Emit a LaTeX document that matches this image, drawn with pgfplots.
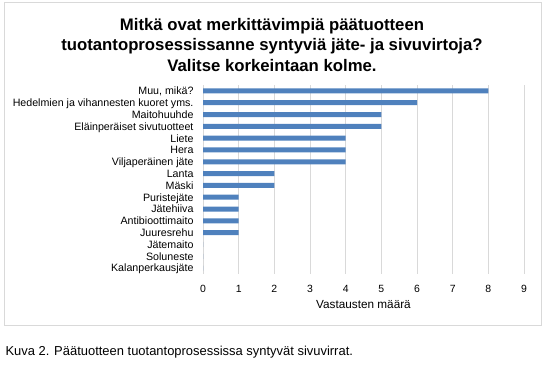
\documentclass[border=0pt]{standalone}
\usepackage{fontspec}
\setmainfont{Liberation Sans}
\usepackage{pgfplots}
\pgfplotsset{compat=1.18}
\definecolor{barblue}{HTML}{4F81BD}
\begin{document}
\begin{tikzpicture}
\useasboundingbox (0bp,0bp) rectangle (545bp,369bp);
\draw[color=black!15, line width=1bp] (4bp,43bp) rectangle (541bp,366bp);
\node[font=\fontsize{16.8}{20.3}\selectfont\bfseries, align=center] at (272bp,324bp)
  {Mitkä ovat merkittävimpiä päätuotteen\\tuotantoprosessissanne syntyviä jäte- ja sivuvirtoja?\\Valitse korkeintaan kolme.};
\node[font=\fontsize{13}{15}\selectfont, anchor=west] at (2bp,17bp) {Kuva 2. Päätuotteen tuotantoprosessissa syntyvät sivuvirrat.};
\begin{axis}[at={(203bp,95bp)}, anchor=south west, scale only axis,
  width=321bp, height=189bp,
  xbar, bar width=5bp,
  xmin=0, xmax=9, ymin=-0.5, ymax=15.5, y dir=reverse,
  xtick={0,...,9}, ytick={0,...,15},
  yticklabels={{Muu, mikä?},{Hedelmien ja vihannesten kuoret yms.},Maitohuuhde,Eläinperäiset sivutuotteet,Liete,Hera,Viljaperäinen jäte,Lanta,Mäski,Puristejäte,Jätehiiva,Antibioottimaito,Juuresrehu,Jätemaito,Soluneste,Kalanperkausjäte},
  axis line style={draw=none},
  major tick length=0,
  xmajorgrids, grid style={black!15, line width=0.8bp},
  /pgf/number format/assume math mode=true,
  yticklabel style={font=\fontsize{10.7}{12}\selectfont, xshift=-6bp, text height=7.7bp, text depth=0bp},
  xticklabel style={font=\fontsize{10.5}{12}\selectfont, yshift=-8bp},
  xlabel={Vastausten määrä},
  xlabel style={font=\fontsize{11.8}{13}\selectfont, yshift=-1bp},
]
\addplot[fill=barblue, draw=none] coordinates {
(8,0) (6,1) (5,2) (5,3) (4,4) (4,5) (4,6) (2,7) (2,8) (1,9) (1,10) (1,11) (1,12) (0,13) (0,14) (0,15)};
\end{axis}
\end{tikzpicture}
\end{document}
